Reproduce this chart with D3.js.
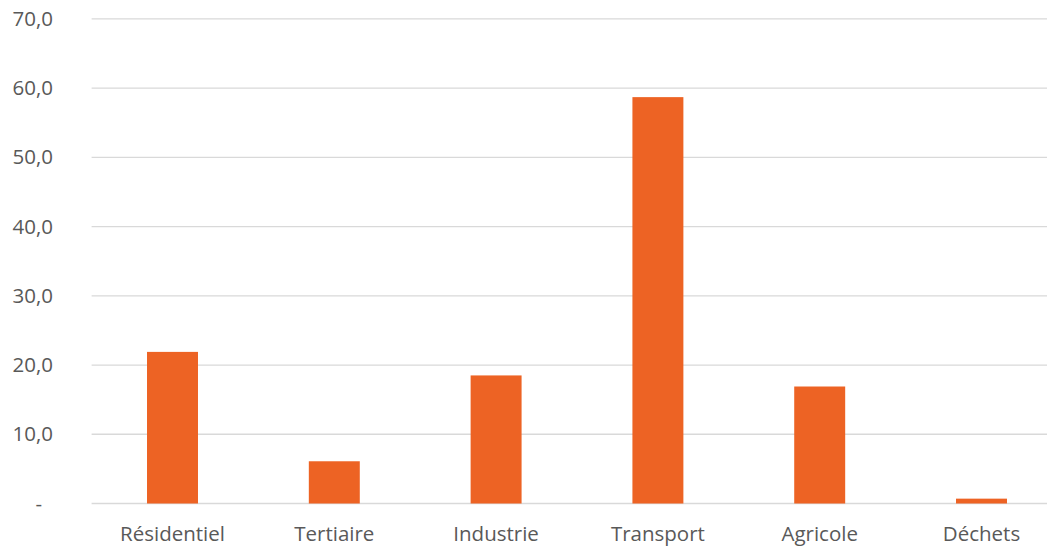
<!DOCTYPE html>
<html>
<head>
<meta charset="utf-8">
<script src="https://cdn.jsdelivr.net/npm/d3@7"></script>
<style>
  html, body { margin: 0; padding: 0; background: #fff; }
  svg { display: block; }
  text { font-family: "Open Sans", "Noto Sans", sans-serif; fill: #595959; }
</style>
</head>
<body>
<svg id="chart" width="1047" height="546"></svg>
<script>
// Émissions par secteur
const categories = ["Résidentiel", "Tertiaire", "Industrie", "Transport", "Agricole", "Déchets"];
const values = [21.9, 6.1, 18.5, 58.7, 16.9, 0.7];
const yTicks = [0, 10, 20, 30, 40, 50, 60, 70];

const width = 1047, height = 546;
const svg = d3.select("#chart");

const x = d3.scaleBand()
  .domain(categories)
  .range([91.6, 1062.4])
  .paddingInner(0.685)
  .paddingOuter(0.3425);

const y = d3.scaleLinear()
  .domain([0, 70])
  .range([503.5, 18.9]);

const fmt = v => v === 0 ? "-" : d3.format(".1f")(v).replace(".", ",");

// horizontal gridlines
svg.append("g")
  .selectAll("line")
  .data(yTicks)
  .join("line")
  .attr("x1", 91.6)
  .attr("x2", width)
  .attr("y1", d => y(d))
  .attr("y2", d => y(d))
  .attr("stroke", "#d9d9d9")
  .attr("stroke-width", 1.3);

// y-axis labels
const yAxis = svg.append("g")
  .attr("transform", "translate(53,0)")
  .call(d3.axisLeft(y).tickValues(yTicks).tickFormat(fmt).tickSize(0).tickPadding(0));
yAxis.select(".domain").remove();
yAxis.selectAll("text")
  .attr("font-size", 20.5)
  .attr("dx", d => d === 0 ? -11 : 0);

// bars
svg.append("g")
  .selectAll("rect")
  .data(values)
  .join("rect")
  .attr("x", (d, i) => x(categories[i]))
  .attr("width", x.bandwidth())
  .attr("y", d => y(d))
  .attr("height", d => y(0) - y(d))
  .attr("fill", "#ED6324");

// category labels
const xAxis = svg.append("g")
  .attr("transform", `translate(0,${y(0)})`)
  .call(d3.axisBottom(x).tickSize(0).tickPadding(0));
xAxis.select(".domain").remove();
xAxis.selectAll("text")
  .attr("font-size", 20.5)
  .attr("dy", null)
  .attr("y", 37.5);
svg.selectAll(".tick text").attr("fill", "#595959").attr("font-family", null);
</script>
</body>
</html>
